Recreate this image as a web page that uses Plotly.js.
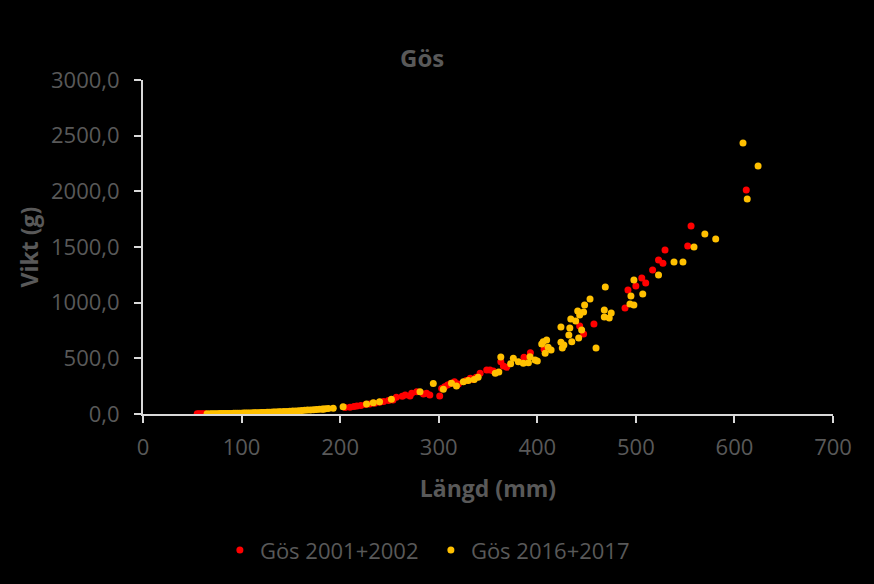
<!DOCTYPE html>
<html>
<head>
<meta charset="utf-8">
<script src="https://cdn.plot.ly/plotly-3.0.1.min.js"></script>
<style>html,body{margin:0;padding:0;background:#000;}#chart{width:874px;height:584px;}</style>
</head>
<body>
<div id="chart"></div>
<script>
// Gös 2001+2002 (red)
const redLength = [55,57,59,61,63,205,210,214,217,221,226,230,235,240,244,249,253.6,257,263,266,270.9,272.6,277.7,284.5,287.7,291,301,303,306,309,312,316,320,328,332,335,338,342,348.7,352,355.4,363,365.6,369,386.5,393,406.9,443,447,457.5,489,492,500,506,510,517,523,527.5,529.6,552.6,556,612];
const redWeight = [1.2,1.4,1.6,1.9,2.2,58,60,68,72,76,85,90,97,105,112,122,126,150,160,171,162,186,200,180,186,171,162,230,245,260,275,290,270,300,320,310,330,365,395,395,386,470,431,419,509,550,581,790,718,808,952,1113,1149,1221,1176,1293,1383,1353,1473,1509,1688,2011];

// Gös 2016+2017 (yellow)
const yelLength = [65,68,70,72,74,76,78,80,82,84,86,88,90,92,94,96,98,100,102,104,106,108,110,112,114,116,118,120,122,124,126,128,130,132,134,136,138,140,143,146,149,152,155,158,161,164,167,170,173,176,179,182,185,188,182.9,193,203,226.8,233.6,240,252,281,294.5,304.7,313,318,325,330,336,340,357.4,361,363,373,375.7,380.8,385.8,391,392.6,397.7,400,404.5,406,408,409.5,411,414,424,424,427,425.4,432,433,434,435,439,441,442,443,445,447,448,453.5,459.6,468,468,469,473,475,494,495,498,498,507,523,538.7,547.8,559,570,581,608.7,613,624];
const yelWeight = [2.1,2.4,2.6,2.8,3.0,3.3,3.6,3.8,4.1,4.4,4.8,5.1,5.5,5.8,6.2,6.6,7.1,7.5,8.0,8.4,8.9,9.4,10.0,10.5,11.1,11.7,12.3,13.0,13.6,14.3,15.0,15.7,16.5,17.2,18.0,18.9,19.7,20.6,21.9,23.3,24.8,26.3,27.9,29.6,31.3,33.1,34.9,36.8,38.8,40.9,43.0,45.2,47.5,49.8,42,51,66,90,101,110,132,200,275,222,276,251,290,300,310,330,365,377,512,452,500,470,455,461,514,485,476,629,649,545,664,599,575,781,644,620,593,709,772,853,649,835,925,682,889,754,916,979,1033,593,934,871,1140,862,907,988,1060,979,1203,1078,1248,1365,1365,1500,1616,1571,2434,1931,2227];

const seriesNames = ['Gös 2001+2002', 'Gös 2016+2017'];
const xTicks = [0,100,200,300,400,500,600,700];
const yTicks = [0,500,1000,1500,2000,2500,3000];

const txt = '#595959';
const axisCol = '#d9d9d9';
const fam = 'Open Sans, sans-serif';

const traces = [
  {x: redLength, y: redWeight, name: seriesNames[0], type: 'scatter', mode: 'markers',
   marker: {color: '#ff0000', size: 7}},
  {x: yelLength, y: yelWeight, name: seriesNames[1], type: 'scatter', mode: 'markers',
   marker: {color: '#ffc000', size: 7}}
];

const layout = {
  width: 874, height: 584,
  paper_bgcolor: '#000', plot_bgcolor: '#000',
  margin: {l: 143, r: 41, t: 80, b: 170},
  separators: ', ',
  title: {text: '<b>Gös</b>', font: {family: fam, size: 24, color: txt},
          xref: 'container', x: 0.483, xanchor: 'center', yref: 'container', y: 0.9, yanchor: 'middle'},
  xaxis: {range: [0, 700], tickvals: xTicks, showgrid: false, zeroline: false,
          showline: true, linecolor: axisCol, linewidth: 2,
          ticks: 'outside', ticklen: 7, tickwidth: 2, tickcolor: axisCol,
          tickfont: {family: fam, size: 22, color: txt}, ticklabelstandoff: 6,
          title: {text: '<b>Längd (mm)</b>', font: {family: fam, size: 23, color: txt}, standoff: 20}},
  yaxis: {range: [0, 3000], tickvals: yTicks, tickformat: '.1f', showgrid: false, zeroline: false,
          showline: true, linecolor: axisCol, linewidth: 2,
          ticks: 'outside', ticklen: 7, tickwidth: 2, tickcolor: axisCol,
          tickfont: {family: fam, size: 22, color: txt}, ticklabelstandoff: 10,
          title: {text: '<b>Vikt (g)</b>', font: {family: fam, size: 23, color: txt}, standoff: 6}},
  showlegend: true,
  legend: {orientation: 'h', xref: 'container', yref: 'container', x: 0.493, xanchor: 'center',
           y: 0.058, yanchor: 'middle', font: {family: fam, size: 22, color: txt},
           bgcolor: 'rgba(0,0,0,0)', itemwidth: 30, entrywidth: 166}
};

Plotly.newPlot('chart', traces, layout, {displayModeBar: false, staticPlot: true});
</script>
</body>
</html>
